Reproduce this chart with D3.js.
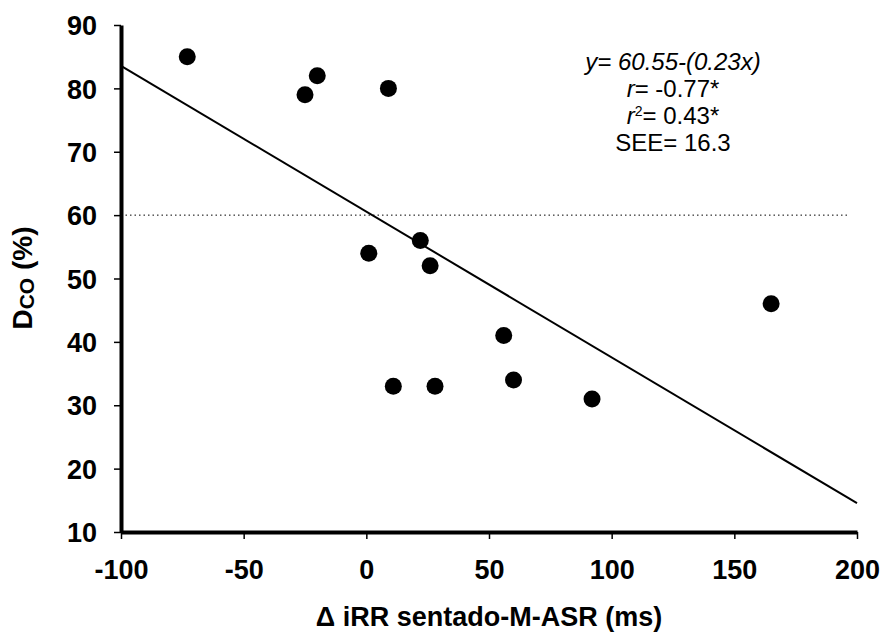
<!DOCTYPE html>
<html>
<head>
<meta charset="utf-8">
<script src="https://cdn.jsdelivr.net/npm/d3@7"></script>
<style>
  body { margin: 0; background: #fff; }
  svg text { font-family: "Liberation Sans", Arial, sans-serif; }
</style>
</head>
<body>
<div id="chart"></div>
<script>
// points (delta iRR ms, DCO %)
var xValues = [-73, -25, -20, 9, 1, 22, 26, 11, 28, 56, 60, 92, 165];
var yValues = [85, 79, 82, 80, 54, 56, 52, 33, 33, 41, 34, 31, 46];

var xTicks = [-100, -50, 0, 50, 100, 150, 200];
var yTicks = [10, 20, 30, 40, 50, 60, 70, 80, 90];

// regression line y = 60.55 - 0.23x
var intercept = 60.55;
var slope = -0.23;
var refLevel = 60;
var refEnd = 197;

var statLines = [
  {pre: "y", post: "= 60.55-(0.23x)", italicAll: true},
  {pre: "r", post: "= -0.77*"},
  {pre: "r", sup: "2", post: "= 0.43*"},
  {pre: "", post: "SEE= 16.3"}
];

var w = 884, h = 633;
var padL = 121, padR = 857, padT = 25, padB = 532;

var svg = d3.select("#chart").append("svg")
  .attr("width", w)
  .attr("height", h);

var x = d3.scaleLinear().domain([-100, 200]).range([padL, padR]);
var y = d3.scaleLinear().domain([10, 90]).range([padB, padT]);

// dotted reference line at 60
svg.append("line")
  .attr("x1", x(-100)).attr("x2", x(refEnd))
  .attr("y1", y(refLevel)).attr("y2", y(refLevel))
  .attr("stroke", "#000")
  .attr("stroke-width", 1)
  .attr("stroke-dasharray", "1.5,3");

// regression line
svg.append("line")
  .attr("x1", x(-100)).attr("y1", y(intercept + slope * -100))
  .attr("x2", x(200)).attr("y2", y(intercept + slope * 200))
  .attr("stroke", "#000")
  .attr("stroke-width", 2);

// points
svg.selectAll("circle")
  .data(xValues.map(function(d, i) { return {x: d, y: yValues[i]}; }))
  .enter().append("circle")
  .attr("cx", function(d) { return x(d.x); })
  .attr("cy", function(d) { return y(d.y); })
  .attr("r", 8.5)
  .attr("fill", "#000");

// axes (plain hyphen minus like the original)
var fmt = function(d) { return String(d); };

var xAxis = svg.append("g")
  .attr("transform", "translate(0," + padB + ")")
  .call(d3.axisBottom(x).tickValues(xTicks).tickFormat(fmt)
    .tickSize(7).tickSizeOuter(0).tickPadding(21));

var yAxis = svg.append("g")
  .attr("transform", "translate(" + padL + ",0)")
  .call(d3.axisLeft(y).tickValues(yTicks).tickFormat(fmt)
    .tickSize(7).tickSizeOuter(0).tickPadding(17));

[xAxis, yAxis].forEach(function(g) {
  g.select(".domain").attr("stroke-width", 4).attr("stroke", "#000");
  g.selectAll(".tick line").attr("stroke-width", 1.5).attr("stroke", "#000");
  g.selectAll(".tick text")
    .attr("fill", "#000")
    .style("font-family", "'Liberation Sans', Arial, sans-serif")
    .style("font-size", "27px")
    .style("font-weight", "bold");
});
yAxis.selectAll(".tick text").attr("dy", "0.36em");

// x label
svg.append("text")
  .attr("x", (padL + padR) / 2)
  .attr("y", 626)
  .attr("text-anchor", "middle")
  .style("font-size", "27px")
  .style("font-weight", "bold")
  .text("\u0394 iRR sentado-M-ASR (ms)");

// y label with subscript
var yl = svg.append("text")
  .attr("transform", "translate(32,278) rotate(-90)")
  .attr("text-anchor", "middle")
  .style("font-size", "28px")
  .style("font-weight", "bold");
yl.append("tspan").text("D");
yl.append("tspan").attr("dy", 2).style("font-size", "21px").text("CO");
yl.append("tspan").attr("dy", -2).text(" (%)");

// stats annotation
var statX = 673;
statLines.forEach(function(s, i) {
  var t = svg.append("text")
    .attr("x", statX)
    .attr("y", 70 + i * 27)
    .attr("text-anchor", "middle")
    .style("font-size", "24px");
  if (s.pre) t.append("tspan").style("font-style", "italic").text(s.pre);
  if (s.sup) t.append("tspan").attr("dy", -8).style("font-size", "14px").text(s.sup);
  t.append("tspan")
    .attr("dy", s.sup ? 8 : null)
    .style("font-style", s.italicAll ? "italic" : "normal")
    .text(s.post);
});
</script>
</body>
</html>
